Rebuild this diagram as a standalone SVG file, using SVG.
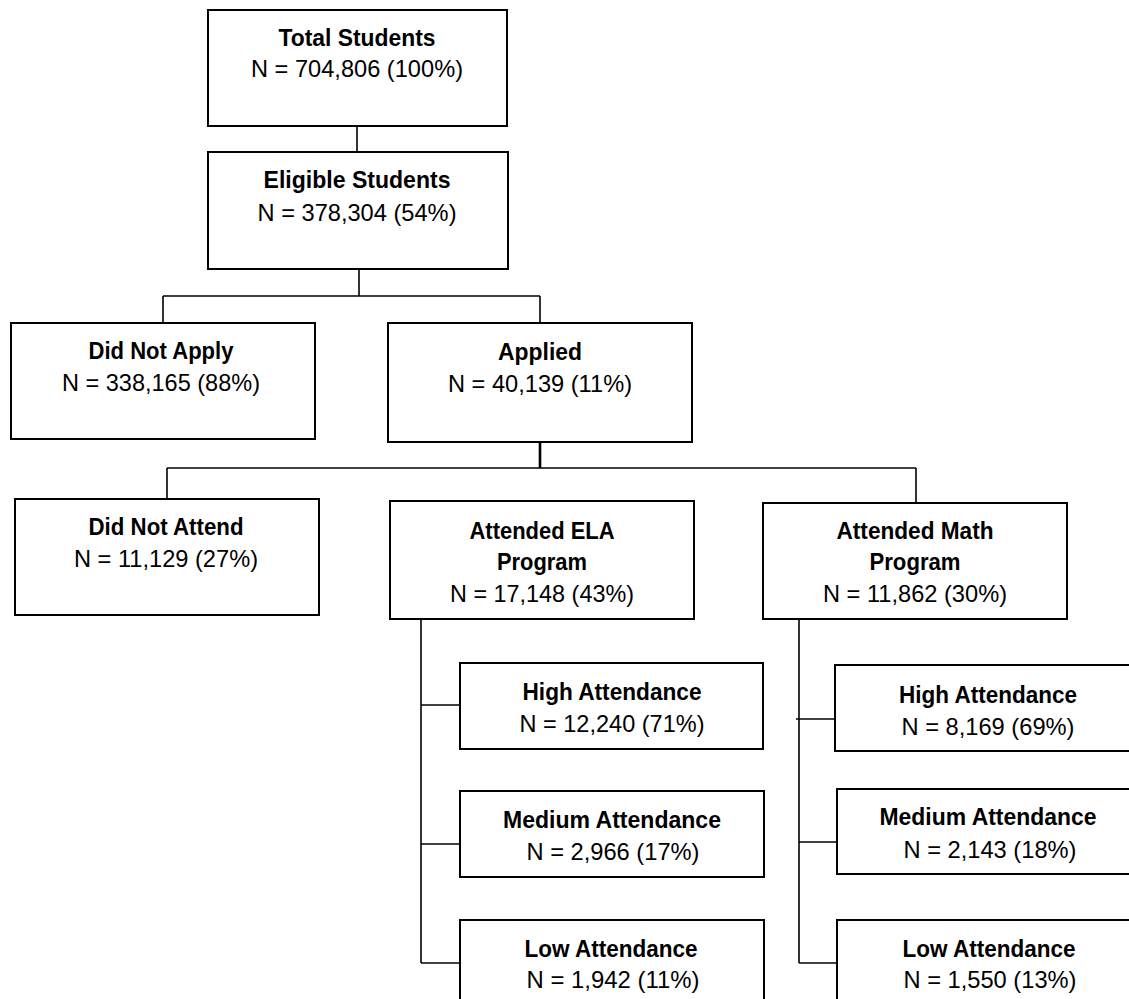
<svg xmlns="http://www.w3.org/2000/svg" width="1129" height="999" viewBox="0 0 1129 999">
<style>
.box{fill:#fff;stroke:#000;stroke-width:2}
.c{stroke:#000;stroke-width:1.6;fill:none}
text{font-family:"Liberation Sans",Arial,sans-serif;font-size:24px;fill:#000;text-anchor:middle}
.t{font-weight:bold}
</style>
<rect width="1129" height="999" fill="#fff"/>
<g id="connectors">
<line class="c" x1="357" y1="126" x2="357" y2="152"/>
<line class="c" x1="359" y1="269" x2="359" y2="296"/>
<line class="c" x1="163" y1="296" x2="540" y2="296"/>
<line class="c" x1="163" y1="296" x2="163" y2="323"/>
<line class="c" x1="540" y1="296" x2="540" y2="323"/>
<line class="c" x1="540" y1="442" x2="540" y2="468" style="stroke-width:2.6"/>
<line class="c" x1="167" y1="468" x2="916" y2="468"/>
<line class="c" x1="167" y1="468" x2="167" y2="499"/>
<line class="c" x1="916" y1="468" x2="916" y2="503"/>
<line class="c" x1="421" y1="619" x2="421" y2="963"/>
<line class="c" x1="421" y1="705" x2="460" y2="705"/>
<line class="c" x1="421" y1="844" x2="460" y2="844"/>
<line class="c" x1="421" y1="963" x2="460" y2="963"/>
<line class="c" x1="799" y1="619" x2="799" y2="963"/>
<line class="c" x1="796" y1="719" x2="839" y2="719"/>
<line class="c" x1="799" y1="842" x2="837" y2="842"/>
<line class="c" x1="799" y1="963" x2="837" y2="963"/>
</g>
<g id="total">
<rect class="box" x="208" y="10" width="299" height="116"/>
<text class="t" x="357" y="46" textLength="157" lengthAdjust="spacingAndGlyphs">Total Students</text>
<text x="357" y="77" textLength="212" lengthAdjust="spacingAndGlyphs">N = 704,806 (100%)</text>
</g>
<g id="eligible">
<rect class="box" x="208" y="152" width="300" height="117"/>
<text class="t" x="357" y="188" textLength="187" lengthAdjust="spacingAndGlyphs">Eligible Students</text>
<text x="357" y="221" textLength="199" lengthAdjust="spacingAndGlyphs">N = 378,304 (54%)</text>
</g>
<g id="did-not-apply">
<rect class="box" x="11" y="323" width="304" height="116"/>
<text class="t" x="161" y="359" textLength="145" lengthAdjust="spacingAndGlyphs">Did Not Apply</text>
<text x="161" y="391" textLength="198" lengthAdjust="spacingAndGlyphs">N = 338,165 (88%)</text>
</g>
<g id="applied">
<rect class="box" x="388" y="323" width="304" height="119"/>
<text class="t" x="540" y="360" textLength="84" lengthAdjust="spacingAndGlyphs">Applied</text>
<text x="540" y="392" textLength="184" lengthAdjust="spacingAndGlyphs">N = 40,139 (11%)</text>
</g>
<g id="did-not-attend">
<rect class="box" x="15" y="499" width="304" height="116"/>
<text class="t" x="166" y="535" textLength="155" lengthAdjust="spacingAndGlyphs">Did Not Attend</text>
<text x="166" y="567" textLength="184" lengthAdjust="spacingAndGlyphs">N = 11,129 (27%)</text>
</g>
<g id="ela">
<rect class="box" x="390" y="501" width="304" height="118"/>
<text class="t" x="542" y="539" textLength="145" lengthAdjust="spacingAndGlyphs">Attended ELA</text>
<text class="t" x="542" y="570" textLength="90" lengthAdjust="spacingAndGlyphs">Program</text>
<text x="542" y="602" textLength="184" lengthAdjust="spacingAndGlyphs">N = 17,148 (43%)</text>
</g>
<g id="math">
<rect class="box" x="763" y="503" width="304" height="116"/>
<text class="t" x="915" y="539" textLength="157" lengthAdjust="spacingAndGlyphs">Attended Math</text>
<text class="t" x="915" y="570" textLength="91" lengthAdjust="spacingAndGlyphs">Program</text>
<text x="915" y="602" textLength="184" lengthAdjust="spacingAndGlyphs">N = 11,862 (30%)</text>
</g>
<g id="ela-high">
<rect class="box" x="460" y="663" width="303" height="86"/>
<text class="t" x="612" y="700" textLength="179" lengthAdjust="spacingAndGlyphs">High Attendance</text>
<text x="612" y="732" textLength="185" lengthAdjust="spacingAndGlyphs">N = 12,240 (71%)</text>
</g>
<g id="ela-medium">
<rect class="box" x="460" y="791" width="304" height="86"/>
<text class="t" x="612" y="828" textLength="218" lengthAdjust="spacingAndGlyphs">Medium Attendance</text>
<text x="613" y="860" textLength="173" lengthAdjust="spacingAndGlyphs">N = 2,966 (17%)</text>
</g>
<g id="ela-low">
<rect class="box" x="460" y="920" width="304" height="100"/>
<text class="t" x="611" y="957" textLength="173" lengthAdjust="spacingAndGlyphs">Low Attendance</text>
<text x="613" y="988" textLength="173" lengthAdjust="spacingAndGlyphs">N = 1,942 (11%)</text>
</g>
<g id="math-high">
<rect class="box" x="835" y="665" width="304" height="86"/>
<text class="t" x="988" y="703" textLength="178" lengthAdjust="spacingAndGlyphs">High Attendance</text>
<text x="988" y="735" textLength="173" lengthAdjust="spacingAndGlyphs">N = 8,169 (69%)</text>
</g>
<g id="math-medium">
<rect class="box" x="837" y="789" width="304" height="85"/>
<text class="t" x="988" y="825" textLength="217" lengthAdjust="spacingAndGlyphs">Medium Attendance</text>
<text x="990" y="858" textLength="173" lengthAdjust="spacingAndGlyphs">N = 2,143 (18%)</text>
</g>
<g id="math-low">
<rect class="box" x="837" y="920" width="304" height="100"/>
<text class="t" x="989" y="957" textLength="173" lengthAdjust="spacingAndGlyphs">Low Attendance</text>
<text x="990" y="988" textLength="173" lengthAdjust="spacingAndGlyphs">N = 1,550 (13%)</text>
</g>
</svg>
